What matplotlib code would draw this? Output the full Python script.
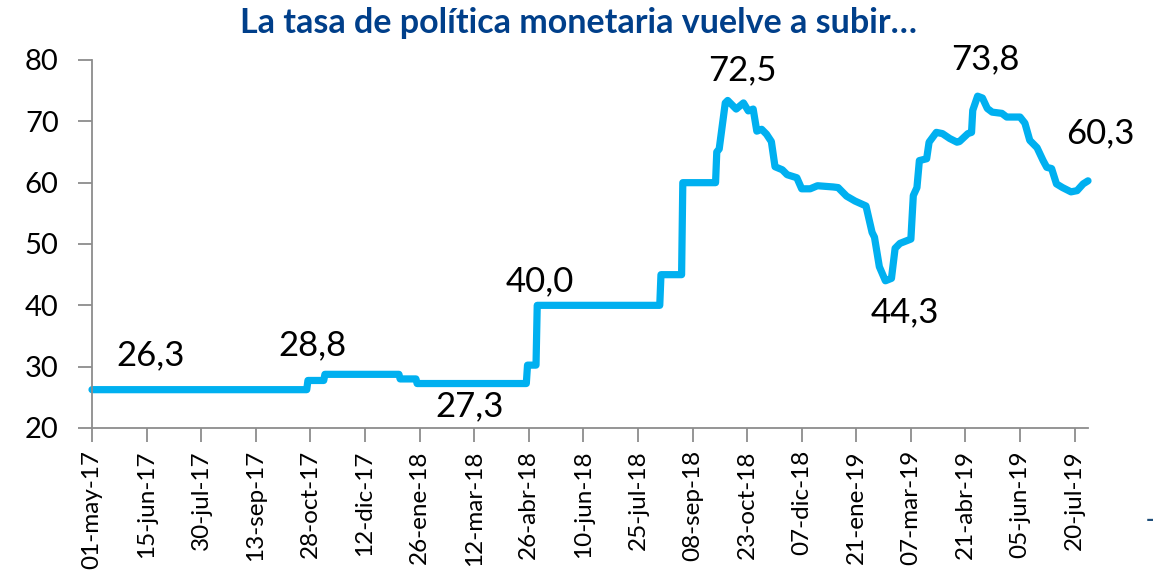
import matplotlib
matplotlib.use("Agg")
import matplotlib.pyplot as plt
import matplotlib.dates as mdates
import pandas as pd

plt.rcParams['font.family'] = ['Lato', 'DejaVu Sans']

# ---- data ----
dates = [
    "2017-05-01", "2017-10-25", "2017-10-26", "2017-11-08", "2017-11-09",
    "2018-01-09", "2018-01-10", "2018-01-23", "2018-01-24", "2018-04-24",
    "2018-04-25", "2018-05-02", "2018-05-03", "2018-08-12", "2018-08-13",
    "2018-08-30", "2018-08-31", "2018-09-27", "2018-09-28", "2018-09-30",
    "2018-10-05", "2018-10-07", "2018-10-14", "2018-10-20", "2018-10-24",
    "2018-10-28", "2018-10-31", "2018-11-04", "2018-11-08", "2018-11-12",
    "2018-11-15", "2018-11-21", "2018-11-25", "2018-12-03", "2018-12-07",
    "2018-12-14", "2018-12-20", "2019-01-02", "2019-01-06", "2019-01-13",
    "2019-01-20", "2019-01-29", "2019-02-03", "2019-02-05", "2019-02-09",
    "2019-02-14", "2019-02-19", "2019-02-22", "2019-02-26", "2019-03-07",
    "2019-03-09", "2019-03-12", "2019-03-14", "2019-03-20", "2019-03-22",
    "2019-03-28", "2019-04-02", "2019-04-08", "2019-04-14", "2019-04-16",
    "2019-04-23", "2019-04-26", "2019-04-27", "2019-05-01", "2019-05-05",
    "2019-05-09", "2019-05-13", "2019-05-21", "2019-05-25", "2019-06-05",
    "2019-06-09", "2019-06-13", "2019-06-19", "2019-06-24", "2019-06-27",
    "2019-07-01", "2019-07-05", "2019-07-10", "2019-07-17", "2019-07-22",
    "2019-07-27", "2019-07-31",
]
values = [
    26.25, 26.25, 27.75, 27.75, 28.75,
    28.75, 28.0, 28.0, 27.25, 27.25,
    30.25, 30.25, 40.0, 40.0, 45.0,
    45.0, 60.0, 60.0, 65.0, 65.5,
    73.0, 73.4, 72.0, 73.0, 71.7,
    72.0, 68.4, 68.7, 67.9, 66.7,
    62.6, 62.1, 61.3, 60.8, 59.0,
    59.0, 59.5, 59.3, 59.2, 57.8,
    57.0, 56.2, 51.9, 51.1, 46.3,
    44.0, 44.4, 49.3, 50.1, 50.8,
    57.9, 59.2, 63.6, 63.9, 66.6,
    68.2, 68.0, 67.2, 66.6, 66.7,
    68.0, 68.2, 71.8, 74.1, 73.8,
    72.1, 71.5, 71.3, 70.7, 70.7,
    69.7, 66.9, 65.7, 63.6, 62.5,
    62.3, 59.8, 59.2, 58.5, 58.7,
    59.8, 60.3,
]

tick_dates = [
    "2017-05-01", "2017-06-15", "2017-07-30", "2017-09-13", "2017-10-28",
    "2017-12-12", "2018-01-26", "2018-03-12", "2018-04-26", "2018-06-10",
    "2018-07-25", "2018-09-08", "2018-10-23", "2018-12-07", "2019-01-21",
    "2019-03-07", "2019-04-21", "2019-06-05", "2019-07-20",
]
tick_labels = [
    "01-may-17", "15-jun-17", "30-jul-17", "13-sep-17", "28-oct-17",
    "12-dic-17", "26-ene-18", "12-mar-18", "26-abr-18", "10-jun-18",
    "25-jul-18", "08-sep-18", "23-oct-18", "07-dic-18", "21-ene-19",
    "07-mar-19", "21-abr-19", "05-jun-19", "20-jul-19",
]

label_texts = ["26,3", "28,8", "27,3", "40,0", "72,5", "44,3", "73,8", "60,3"]
label_dates = ["2017-06-18", "2017-10-30", "2018-03-08", "2018-05-05",
               "2018-10-19", "2019-03-02", "2019-05-07", "2019-08-10"]
label_values = [31.8, 33.5, 23.5, 43.9, 78.3, 38.9, 80.2, 68.1]

title = "La tasa de política monetaria vuelve a subir…"

# ---- figure ----
fig = plt.figure(figsize=(11.53, 5.74), dpi=100)
ax = fig.add_axes([92/1153, 1 - 428/574, (1088 - 92)/1153, (428 - 60)/574])

x = pd.to_datetime(dates)
ax.plot(x, values, color="#00B0F0", lw=5.2, solid_joinstyle="round",
        solid_capstyle="round", clip_on=False)

ax.set_xlim(pd.Timestamp("2017-05-01"), pd.Timestamp("2019-07-31"))
ax.set_ylim(20, 80)
ax.set_yticks(range(20, 81, 10))
ax.set_xticks(pd.to_datetime(tick_dates))
ax.set_xticklabels(tick_labels, rotation=90, fontsize=17.5)

for s in ["top", "right"]:
    ax.spines[s].set_visible(False)
for s in ["left", "bottom"]:
    ax.spines[s].set_color("#8C8C8C")
    ax.spines[s].set_linewidth(1.3)
ax.tick_params(axis="both", colors="#8C8C8C", length=10, width=1.3,
               labelcolor="black")
ax.tick_params(axis="y", labelsize=21, pad=14)
ax.tick_params(axis="x", pad=6)

for t, d, v in zip(label_texts, label_dates, label_values):
    ax.text(pd.Timestamp(d), v, t, fontsize=25, ha="center", va="center",
            color="black")

fig.text(0.5017, 1 - 33/574, title, ha="center", va="baseline", fontsize=24.5,
         fontweight="bold", color="#003F8A")
fig.text(0.9975, 0.093, "-", ha="center", va="center", fontsize=16,
         fontweight="bold", color="#1F4E79")

fig.savefig("out.png", dpi=100)
